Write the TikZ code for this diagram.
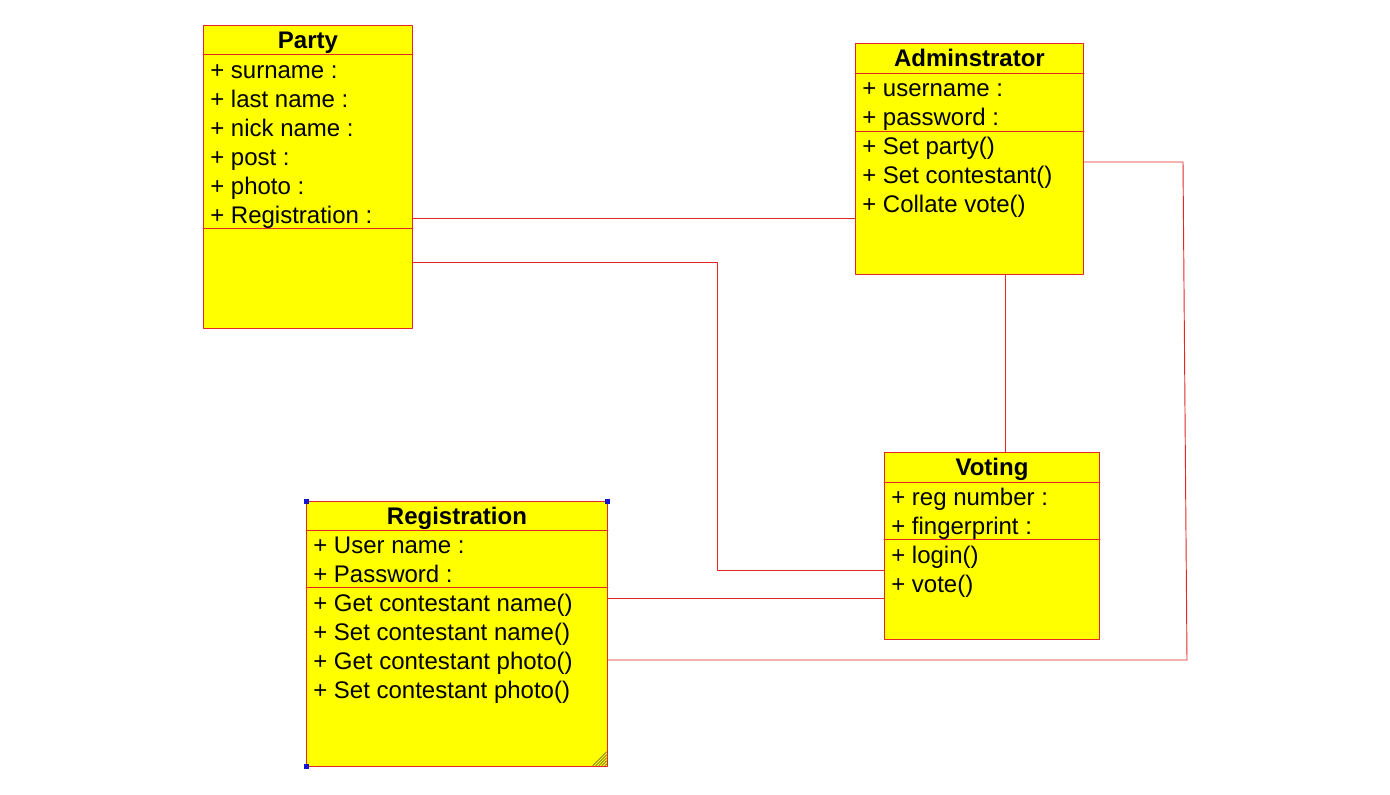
\documentclass[tikz,border=0pt]{standalone}
\usepackage{fontspec}
\setmainfont{Liberation Sans}
\definecolor{umlred}{RGB}{228,38,38}
\definecolor{umlyellow}{RGB}{255,255,0}
\definecolor{handle}{RGB}{20,20,210}
\tikzset{
  classbox/.style={draw=umlred, fill=umlyellow, anchor=north west, inner sep=0pt, line width=0.7pt},
  sep/.style={draw=umlred, line width=0.7pt},
  title/.style={anchor=base, inner sep=0pt, font=\fontsize{18}{21}\selectfont\bfseries},
  member/.style={anchor=base west, inner sep=0pt, font=\fontsize{18}{21}\selectfont},
  link/.style={draw=umlred, line width=0.7pt}
}
\begin{document}
\begin{tikzpicture}[x=0.75pt, y=-0.75pt, line cap=round, line join=round]
  \useasboundingbox (0,0) rectangle (1390,795);
  % class boxes
  \foreach \n/\x/\y/\w/\h in {party/203/25/209/303, admin/855/43/228/231, voting/884/452/215/187, reg/306/501/301/265} {
    \node[classbox, minimum width=\w*0.75pt, minimum height=\h*0.75pt] (\n) at (\x,\y) {};
  }
  % compartments
  \foreach \n/\a/\b in {party/54/228, admin/73/131, voting/482/539, reg/530/587} {
    \draw[sep] (\n.west |- 0,\a) -- (\n.east |- 0,\a);
    \draw[sep] (\n.west |- 0,\b) -- (\n.east |- 0,\b);
  }
  % titles
  \node[title] (partyname) at (party.north |- 0,48.5) {Party};
  \node[title] (adminname) at (admin.north |- 0,66.5) {Adminstrator};
  \node[title] (votingname) at (voting.north |- 0,475.5) {Voting};
  \node[title] (regname) at (reg.north |- 0,524.5) {Registration};
  % members
  \foreach \t [count=\i] in {surname :, last name :, nick name :, post :, photo :, Registration :}
    \node[member] (party-\i) at (210,{78.5+29*(\i-1)}) {+ \t};
  \foreach \t [count=\i] in {username :, password :, Set party(), Set contestant(), Collate vote()}
    \node[member] (admin-\i) at (862,{96.5+29*(\i-1)}) {+ \t};
  \foreach \t [count=\i] in {reg number :, fingerprint :, login(), vote()}
    \node[member] (voting-\i) at (891,{505.5+29*(\i-1)}) {+ \t};
  \foreach \t [count=\i] in {User name :, Password :, Get contestant name(), Set contestant name(), Get contestant photo(), Set contestant photo()}
    \node[member] (reg-\i) at (313,{553.5+29*(\i-1)}) {+ \t};
  % selection marks on Registration
  \foreach \c in {reg.north west, reg.north east, reg.south west}
    \fill[handle] (\c) ++(-2.5,-2.5) rectangle ++(5,5);
  \foreach \k in {3,6,...,15}
    \draw[black!70, line width=0.4pt] ([xshift=-\k*0.75pt, yshift=1pt]reg.south east) -- ([xshift=-1pt, yshift=\k*0.75pt]reg.south east);
  % associations
  \coordinate (bend1) at (717,262);
  \coordinate (bend2) at (717,570);
  \coordinate (bend3) at (1183,162);
  \coordinate (bend4) at (1187,660);
  \draw[link] (party.east |- 0,218) -- (admin.west |- 0,218);
  \draw[link] (party.east |- bend1) -- (bend1) -- (bend2) -- (voting.west |- bend2);
  \draw[link] (admin.south -| 1005,0) -- (voting.north -| 1005,0);
  \draw[link] (reg.east |- 0,598) -- (voting.west |- 0,598);
  \draw[link] (admin.east |- bend3) -- (bend3) -- (bend4) -- (reg.east |- bend4);
\end{tikzpicture}
\end{document}
